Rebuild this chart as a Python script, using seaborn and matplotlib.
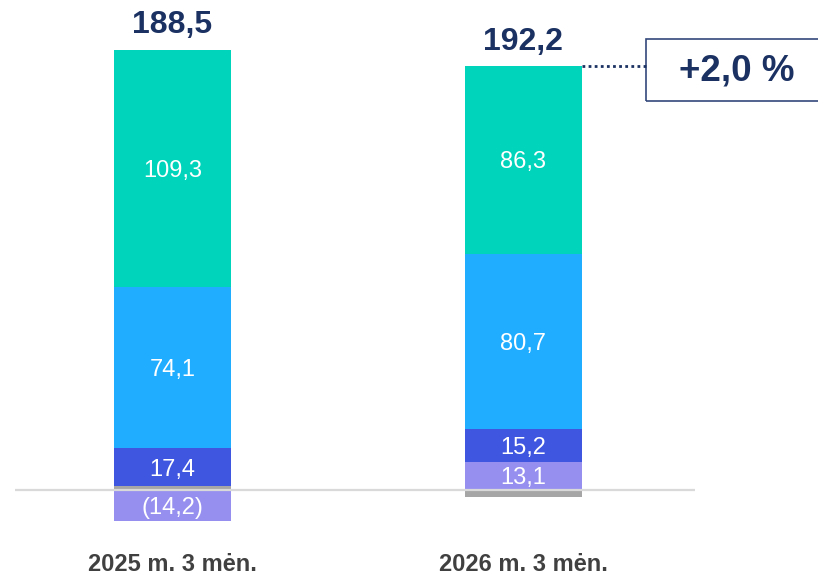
import matplotlib
matplotlib.use("Agg")
from matplotlib import pyplot as plt
from matplotlib.patches import Rectangle
import seaborn as sns
import numpy as np

periods = ["2025 m. 3 mėn.", "2026 m. 3 mėn."]
# segments, stacked from zero outwards (positives up, negatives down)
grey = [1.9, -3.1]
purple = [-14.2, 13.1]
dark_blue = [17.4, 15.2]
blue = [74.1, 80.7]
teal = [109.3, 86.3]
totals = [188.5, 192.2]
change_label = "+2,0 %"

series = [
    (grey, "#A6A6A6", False),
    (purple, "#968FF0", True),
    (dark_blue, "#3E56E0", True),
    (blue, "#21ADFF", True),
    (teal, "#00D4BA", True),
]

navy = "#1B3162"

sns.set_style("white")
plt.rcParams["font.family"] = ["Liberation Sans", "DejaVu Sans"]

fig = plt.figure(figsize=(8.18, 5.75), dpi=100)
ax = fig.add_axes([15 / 818, 40 / 575, 680 / 818, 535 / 575])

pos_base = np.zeros(len(periods))
neg_base = np.zeros(len(periods))
for vals, col, show in series:
    vals = np.array(vals)
    bottoms = np.where(vals >= 0, pos_base, neg_base)
    sns.barplot(x=periods, y=vals, bottom=bottoms, color=col, width=0.333,
                saturation=1, linewidth=0, ax=ax, zorder=2)
    if show:
        for i, v in enumerate(vals):
            txt = f"{abs(v):.1f}".replace(".", ",")
            if v < 0:
                txt = "(" + txt + ")"
            ax.text(i, bottoms[i] + v / 2, txt, ha="center", va="center_baseline",
                    color="white", fontsize=17, zorder=4)
    pos_base = pos_base + np.where(vals >= 0, vals, 0)
    neg_base = neg_base + np.where(vals < 0, vals, 0)

# totals above bars
for i, t in enumerate(totals):
    ax.annotate(f"{t:.1f}".replace(".", ","), xy=(i, pos_base[i]),
                xytext=(0, 12), textcoords="offset points", ha="center",
                va="baseline", fontsize=23, fontweight="bold", color=navy)

ax.axhline(0, color="#D9D9D9", lw=1.6, zorder=5)

ax.set_xlim(-0.449, 1.489)
ax.set_ylim(-20.7, 225.8)

# change box
top2 = pos_base[1]
ax.plot([1 + 0.333 / 2, 1.349], [top2, top2], ls=(0, (1, 1.2)), color=navy,
        lw=2, clip_on=False)
ax.add_patch(Rectangle((1.349, 179.3), 0.55, 28.5, fill=False,
                       edgecolor="#34497A", lw=1.2, clip_on=False))
ax.text(1.608, 193.0, change_label, ha="center", va="center", fontsize=26.5,
        fontweight="bold", color=navy, clip_on=False)

for s in ax.spines.values():
    s.set_visible(False)
ax.set_yticks([])
ax.set_xlabel("")
ax.set_ylabel("")
ax.tick_params(axis="x", length=0, pad=13)
for lab in ax.get_xticklabels():
    lab.set_fontweight("bold")
    lab.set_fontsize(17)
    lab.set_color("#404040")

fig.savefig("out.png", dpi=100)
